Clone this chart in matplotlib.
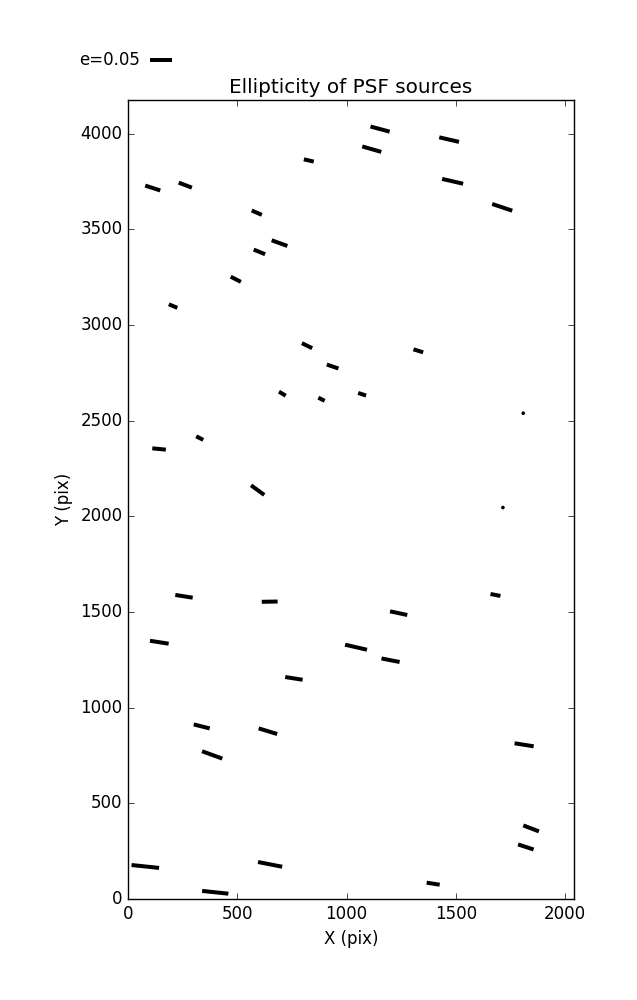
import numpy as np
import matplotlib
matplotlib.use('Agg')
import matplotlib.pyplot as plt

# source positions on the chip (pix)
x = [113, 262, 827, 589, 693, 601, 493, 206, 819, 1153, 1115, 1469, 1485, 1712,
     936, 706, 885, 328, 142, 593, 1328, 1071, 1808, 1715, 256, 648, 143, 1043,
     759, 337, 640, 1681, 1238, 1201, 1812, 385, 79, 650, 399, 1844, 1820, 1396]
y = [3716, 3731, 3860, 3587, 3428, 3382, 3239, 3099, 2892, 4024, 3919, 3969, 3751, 3615,
     2783, 2641, 2612, 2409, 2352, 2137, 2865, 2638, 2539, 2046, 1582, 1554, 1342, 1316,
     1153, 902, 877, 1589, 1494, 1248, 806, 753, 170, 181, 35, 369, 272, 80]
# ellipticity and position angle (deg)
e = [0.036, 0.032, 0.023, 0.025, 0.038, 0.028, 0.026, 0.021, 0.026, 0.045, 0.045, 0.046, 0.049, 0.048,
     0.028, 0.018, 0.016, 0.018, 0.031, 0.037, 0.023, 0.019, 0.001, 0.001, 0.040, 0.036, 0.043, 0.051,
     0.040, 0.0375, 0.044, 0.023, 0.040, 0.042, 0.044, 0.049, 0.063, 0.056, 0.060, 0.038, 0.037, 0.030]
theta = [-18, -21, -13, -23, -20, -22, -27, -23, -26, -15, -16, -13, -13, -18.5,
         -19, -31, -27, -27, -5.5, -36, -17, -18.5, 0, 0, -9, 1, -9, -13,
         -9, -14, -17, -11, -12, -11, -9, -20, -6, -11, -6, -21, -18, -9]

plt.style.use('classic')

th = np.radians(theta)
u = np.array(e) * np.cos(th)
v = np.array(e) * np.sin(th)

fig = plt.figure(figsize=(6.37, 10), facecolor='white')
ax = fig.add_axes([0.201, 0.101, 0.700, 0.799])
q = ax.quiver(x, y, u, v, pivot='middle', headwidth=0, headlength=0, headaxislength=0,
              scale_units='inches', scale=1/4.4, width=0.009, color='k')
ax.quiverkey(q, 0.236, 0.94, 0.05, 'e=0.05', labelpos='W', coordinates='figure')

ax.set_xlim(0, 2040)
ax.set_ylim(0, 4176)
ax.set_xticks([0, 500, 1000, 1500, 2000])
ax.set_yticks([0, 500, 1000, 1500, 2000, 2500, 3000, 3500, 4000])
ax.set_xlabel('X (pix)')
ax.set_ylabel('Y (pix)')
ax.set_title('Ellipticity of PSF sources')

fig.savefig('out.png', dpi=100, facecolor='white')
